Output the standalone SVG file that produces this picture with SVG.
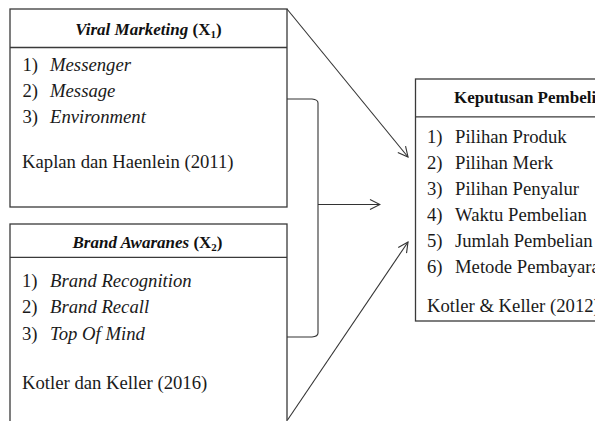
<svg xmlns="http://www.w3.org/2000/svg" width="595" height="421" viewBox="0 0 595 421">
  <defs>
    <style>
      .box { fill: #ffffff; stroke: #3a3a3a; stroke-width: 1.3; }
      .div { stroke: #3a3a3a; stroke-width: 1.3; }
      .conn { fill: none; stroke: #333333; stroke-width: 1.1; }
      .title { font-family: "Liberation Serif", "Times New Roman", serif; font-size: 17px; font-weight: bold; fill: #111111; }
      .body { font-family: "Liberation Serif", "Times New Roman", serif; font-size: 18.7px; fill: #1a1a1a; }
      .it { font-style: italic; }
      .sub { font-size: 11px; }
    </style>
    <marker id="arrow" viewBox="0 0 12 12" refX="11" refY="6" markerWidth="12" markerHeight="12" markerUnits="userSpaceOnUse" orient="auto">
      <path d="M1,1 L11,6 L1,11" fill="none" stroke="#333333" stroke-width="1.1"/>
    </marker>
  </defs>
  <rect width="595" height="421" fill="#ffffff"/>

  <g id="node-viral-marketing">
    <rect class="box" x="10" y="9" width="277" height="198"/>
    <line class="div" x1="10" y1="47.5" x2="287" y2="47.5"/>
    <text class="title" x="148.5" y="35" text-anchor="middle"><tspan font-style="italic">Viral Marketing</tspan> (X<tspan class="sub" dy="3">1</tspan><tspan dy="-3">)</tspan></text>
    <text class="body" x="22.5" y="71">1)</text>
    <text class="body it" x="50" y="71">Messenger</text>
    <text class="body" x="22.5" y="97">2)</text>
    <text class="body it" x="50" y="97">Message</text>
    <text class="body" x="22.5" y="123">3)</text>
    <text class="body it" x="50" y="123">Environment</text>
    <text class="body" x="22" y="168">Kaplan dan Haenlein (2011)</text>
  </g>

  <g id="node-brand-awareness">
    <rect class="box" x="10" y="224" width="277" height="220"/>
    <line class="div" x1="10" y1="257.3" x2="287" y2="257.3"/>
    <text class="title" x="147.5" y="248" text-anchor="middle"><tspan font-style="italic">Brand Awaranes</tspan> (X<tspan class="sub" dy="3">2</tspan><tspan dy="-3">)</tspan></text>
    <text class="body" x="22" y="286.5">1)</text>
    <text class="body it" x="50" y="286.5">Brand Recognition</text>
    <text class="body" x="22" y="313">2)</text>
    <text class="body it" x="50" y="313">Brand Recall</text>
    <text class="body" x="22" y="339.5">3)</text>
    <text class="body it" x="50" y="339.5">Top Of Mind</text>
    <text class="body" x="22" y="389">Kotler dan Keller (2016)</text>
  </g>

  <g id="node-keputusan-pembelian">
    <rect class="box" x="415.5" y="79" width="200" height="242"/>
    <line class="div" x1="415.5" y1="116.8" x2="600" y2="116.8"/>
    <text class="title" x="454" y="103">Keputusan Pembelian</text>
    <text class="body" x="427" y="142.5">1)</text>
    <text class="body" x="455" y="142.5">Pilihan Produk</text>
    <text class="body" x="427" y="168.5">2)</text>
    <text class="body" x="455" y="168.5">Pilihan Merk</text>
    <text class="body" x="427" y="194.5">3)</text>
    <text class="body" x="455" y="194.5">Pilihan Penyalur</text>
    <text class="body" x="427" y="220.5">4)</text>
    <text class="body" x="455" y="220.5">Waktu Pembelian</text>
    <text class="body" x="427" y="246.5">5)</text>
    <text class="body" x="455" y="246.5">Jumlah Pembelian</text>
    <text class="body" x="427" y="272.5">6)</text>
    <text class="body" x="455" y="272.5">Metode Pembayaran</text>
    <text class="body" x="427" y="312">Kotler &amp; Keller (2012)</text>
  </g>

  <g id="connectors">
    <line class="conn" x1="287" y1="9" x2="408" y2="157" marker-end="url(#arrow)"/>
    <path class="conn" d="M287,99 L312,99 Q318,99.5 318,103 L318,333 Q318,336.5 312,337 L287,337"/>
    <line class="conn" x1="318" y1="204.5" x2="380" y2="204.5" marker-end="url(#arrow)"/>
    <line class="conn" x1="287.5" y1="420" x2="408" y2="242" marker-end="url(#arrow)"/>
  </g>
</svg>
